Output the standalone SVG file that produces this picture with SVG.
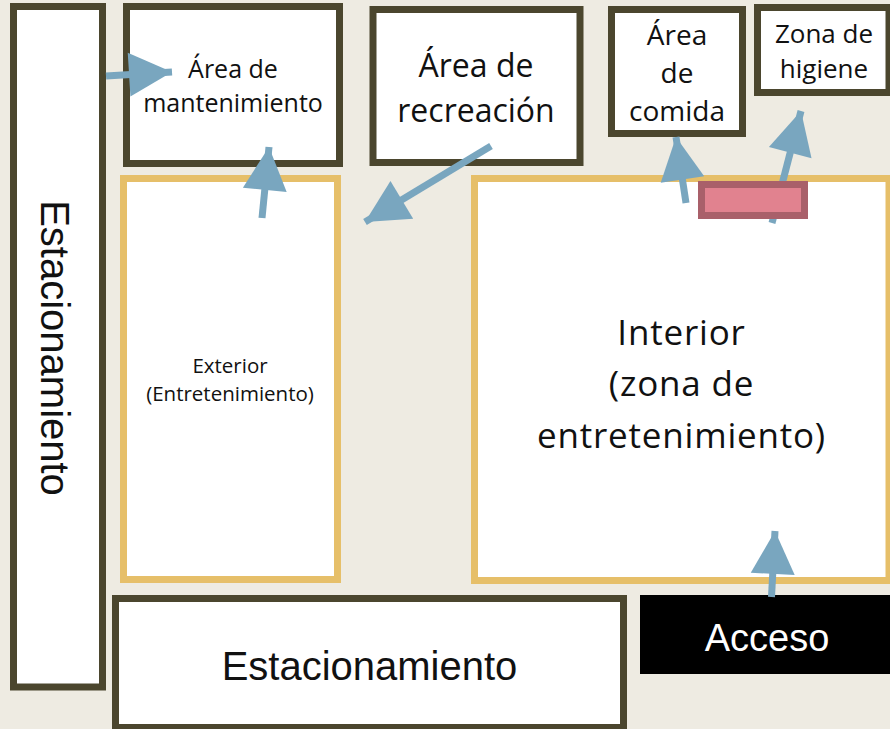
<svg xmlns="http://www.w3.org/2000/svg" width="890" height="729" viewBox="0 0 890 729">
<style>
.dark{fill:#FFFFFF;stroke:#4B462E;stroke-width:7}
.gold{fill:#FFFFFF;stroke:#E6BF69;stroke-width:7}
.t{font-family:"Open Sans","Liberation Sans",sans-serif;fill:#111111;text-anchor:middle}
.a{font-family:"Liberation Sans",Arial,sans-serif;fill:#111111;text-anchor:middle}
.conn line{stroke:#79A6BF;stroke-width:7;marker-end:url(#head)}
</style>
<defs>
<marker id="head" markerUnits="userSpaceOnUse" markerWidth="44" markerHeight="44" refX="43" refY="22" orient="auto" overflow="visible">
<path d="M0,0 L43,22 L0,44 Z" fill="#79A6BF"/>
</marker>
</defs>
<rect x="0" y="0" width="890" height="729" fill="#EEEBE2"/>
<g id="estacionamiento-vertical">
<rect class="dark" x="13.5" y="6.5" width="89" height="680.5"/>
<text class="a" font-size="40" transform="translate(41,348) rotate(90)">Estacionamiento</text>
</g>
<g id="area-mantenimiento">
<rect class="dark" x="126.5" y="6.5" width="213" height="157"/>
<text class="t" font-size="25" x="233" y="78">Área de</text>
<text class="t" font-size="25" x="233" y="112">mantenimiento</text>
</g>
<g id="area-recreacion">
<rect class="dark" x="373" y="9.5" width="207" height="153"/>
<text class="t" font-size="32" x="476" y="77">Área de</text>
<text class="t" font-size="32" x="476" y="122">recreación</text>
</g>
<g id="area-comida">
<rect class="dark" x="611.5" y="9.5" width="131" height="124"/>
<text class="t" font-size="28" x="677" y="45">Área</text>
<text class="t" font-size="28" x="677" y="83">de</text>
<text class="t" font-size="28" x="677" y="121">comida</text>
</g>
<g id="zona-higiene">
<rect class="dark" x="757.5" y="7.5" width="131.5" height="85"/>
<text class="t" font-size="26" x="824" y="43">Zona de</text>
<text class="t" font-size="26" x="824" y="78">higiene</text>
</g>
<g id="exterior">
<rect class="gold" x="123.5" y="178.5" width="214" height="401"/>
<text class="t" font-size="20.5" x="230" y="373">Exterior</text>
<text class="t" font-size="20.5" x="230" y="401">(Entretenimiento)</text>
</g>
<g id="interior">
<rect class="gold" x="474.5" y="178.5" width="414.5" height="402"/>
<text class="t" font-size="35" letter-spacing="0.8" x="681.5" y="345">Interior</text>
<text class="t" font-size="35" letter-spacing="0.8" x="681.5" y="396">(zona de</text>
<text class="t" font-size="35" letter-spacing="0.8" x="681.5" y="448">entretenimiento)</text>
</g>
<g id="estacionamiento">
<rect class="dark" x="115.5" y="598.5" width="508" height="129"/>
<text class="a" font-size="40" x="369.5" y="680">Estacionamiento</text>
</g>
<g id="acceso">
<rect x="640" y="595" width="250" height="79" fill="#000000"/>
<text class="a" font-size="38" x="767" y="651" style="fill:#FFFFFF">Acceso</text>
</g>
<g id="connectors" class="conn">
<line x1="106" y1="76" x2="172" y2="72"/>
<line x1="262" y1="218" x2="269" y2="147"/>
<line x1="491" y1="146" x2="365" y2="222"/>
<line x1="686" y1="203" x2="676" y2="137"/>
<line x1="772" y1="223" x2="801" y2="111"/>
<line x1="771.5" y1="597" x2="775" y2="531"/>
</g>
<g id="pasillo">
<rect x="701.5" y="184.5" width="103" height="31" fill="#E1828F" stroke="#A9606A" stroke-width="7"/>
</g>
</svg>
